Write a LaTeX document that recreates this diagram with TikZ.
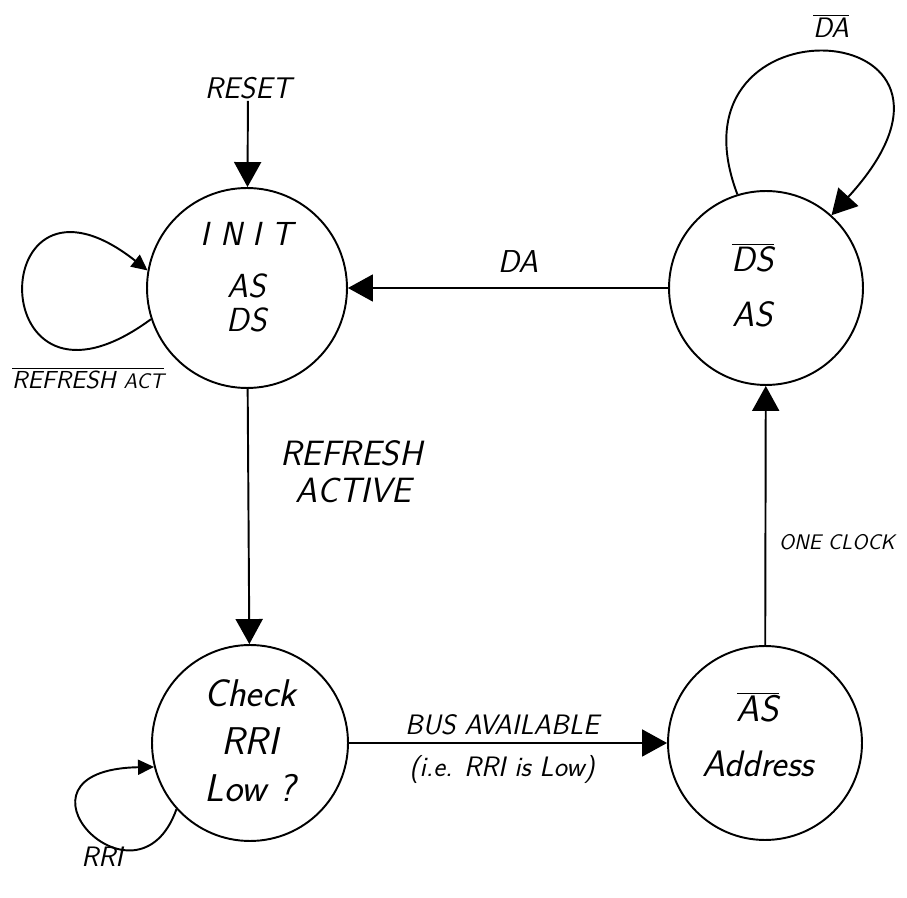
\documentclass[tikz,border=0pt]{standalone}
\usepackage{tikz}
\usetikzlibrary{arrows.meta, positioning, calc}
\newcommand{\notsig}[1]{$\overline{\mbox{#1}}$}

\begin{document}
\begin{tikzpicture}[x=0.02cm, y=-0.02cm,
  state/.style={circle, draw, line width=1.1pt, minimum size=#1, inner sep=0pt},
  txt/.style={font=\sffamily\slshape\fontsize{#1}{#1}\selectfont, align=center, inner sep=1pt},
  arr/.style={line width=1.1pt, -{Triangle[length=0.5cm, width=0.54cm]}},
  smallarr/.style={line width=1.1pt, -{Triangle[length=0.32cm, width=0.3cm]}}]

\useasboundingbox (0,0) rectangle (907,898);

% States

\node [state=4cm, label={[txt=19, yshift=0.22cm]center:{I N I T\\[11pt] AS\\[0pt] DS}}] (init) at (247,288) {};
\node [state=3.88cm, label={[txt=20, xshift=-0.26cm, yshift=0.06cm]center:{\notsig{DS}\\[11pt] AS}}] (dsas) at (766,288) {};
\node [state=3.92cm, label={[txt=22, yshift=0.04cm]center:{Check\\[5pt] RRI\\[5pt] Low ?}}] (check) at (250,743) {};
\node [state=3.88cm, label={[txt=21, xshift=-0.14cm, yshift=0.17cm]center:{\notsig{AS}\\[10pt] Address}}] (addr) at (765,743) {};

% Transitions

\node [txt=17] (reset) at (248,88) {RESET};
\draw[arr] (reset) -- (init);

\draw[arr] (init) -- (check);
\node [txt=20, align=left, anchor=west] (refresh) at (278,472) {REFRESH\\[1pt] \hspace{9pt}ACTIVE};

\draw[arr] (check) -- (addr);
\node [txt=16] (bus) at (502,725) {BUS AVAILABLE};
\node [txt=16] (ie) at (502,769) {(i.e. RRI is Low)};

\draw[arr] (addr) -- (dsas);
\node [txt=12] (oneclock) at (837,542) {ONE CLOCK};

\draw[arr] (dsas) -- (init);
\node [txt=18] (da) at (518,262) {DA};

% Self loops

\draw[smallarr] (init.198) .. controls +(-170,125) and +(-165,-130) .. (init.170);
\node [txt=14] (refreshact) at (88,378) {\notsig{REFRESH {\fontsize{12}{12}\selectfont ACT}}};

\draw[arr] (dsas.107) .. controls +(-77,-203) and +(185,-202) .. (dsas.48);
\node [txt=16] (nda) at (831,26) {\notsig{DA}};

\draw[smallarr] (check.222) .. controls +(-40,112) and +(-160,3) .. (check.194);
\node [txt=16] (rri) at (102,857) {RRI};

\end{tikzpicture}
\end{document}
